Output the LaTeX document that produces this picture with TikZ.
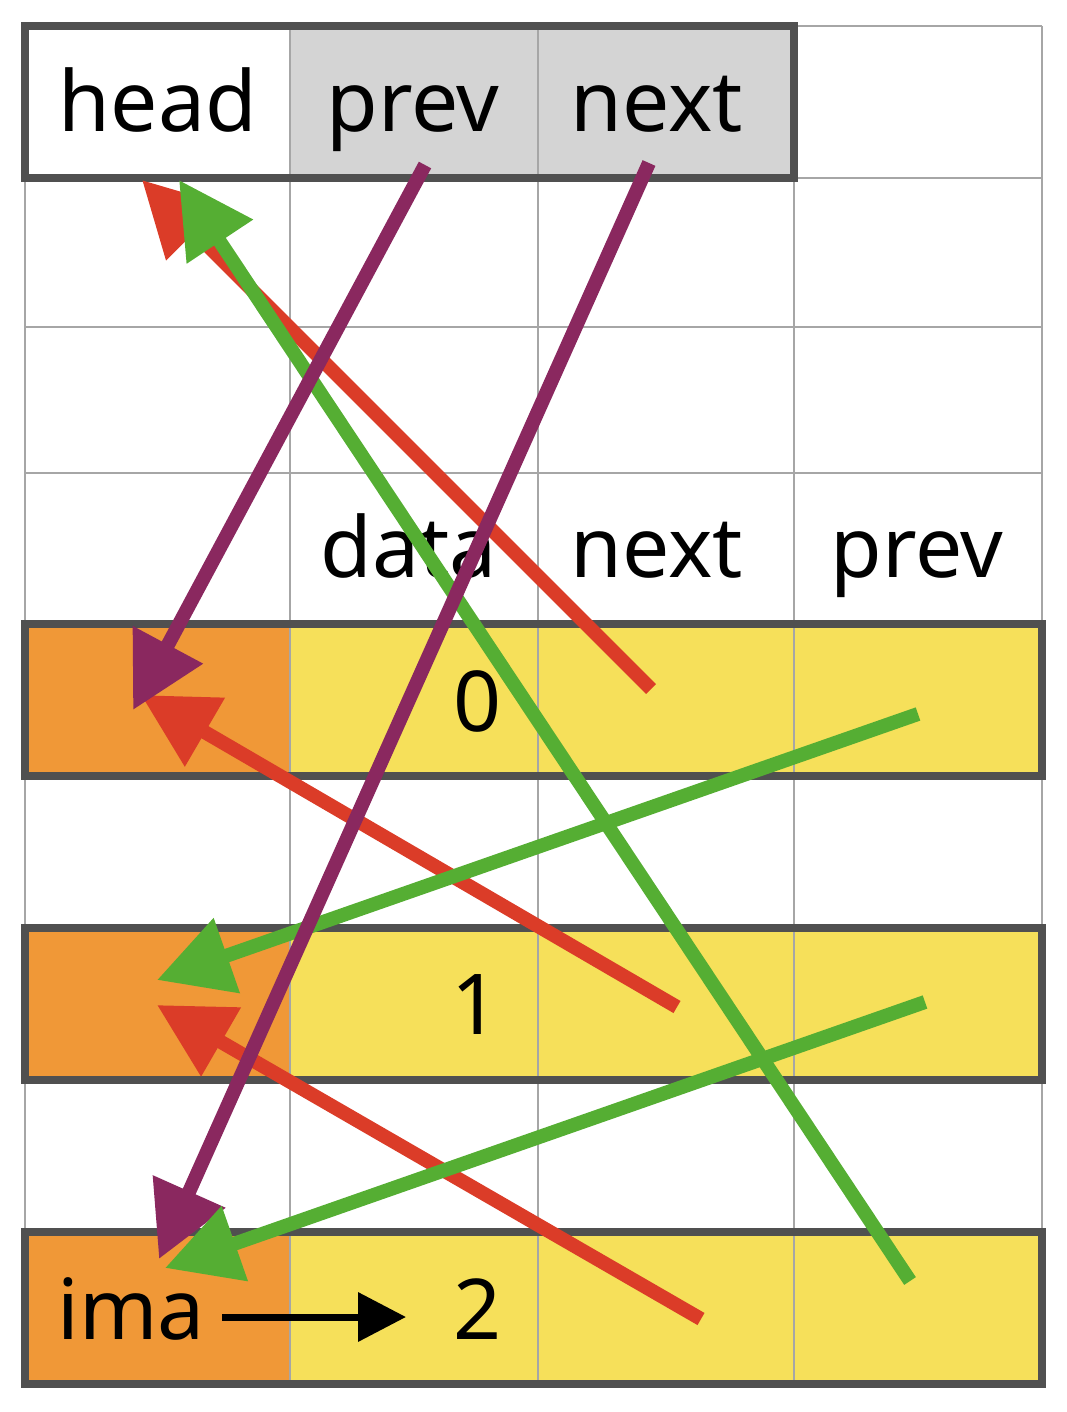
\documentclass[tikz,border=0pt]{standalone}
\usepackage{fontspec}
\setmainfont{Noto Sans}
\usetikzlibrary{arrows.meta}
\definecolor{CellOrange}{RGB}{240,152,55}
\definecolor{CellYellow}{RGB}{246,224,90}
\definecolor{CellGray}{RGB}{212,212,212}
\definecolor{FrameGray}{RGB}{80,80,80}
\definecolor{GridGray}{RGB}{166,166,166}
\definecolor{PtrRed}{RGB}{219,60,40}
\definecolor{PtrGreen}{RGB}{85,174,51}
\definecolor{PtrPurple}{RGB}{138,40,95}

\begin{document}
\begin{tikzpicture}[x=0.5pt, y=-0.5pt,
  lbl/.style={anchor=base, inner sep=0pt, font=\fontsize{42}{50}\selectfont},
  gridline/.style={draw=GridGray, line width=0.75pt},
  frame/.style={draw=FrameGray, line width=3.8pt},
  ptr/.style={line width=7pt, -{Triangle[length=37pt, width=38pt]}},
  ]
  \useasboundingbox (0,0) rectangle (1066,1412);

  % Cells
  \fill[CellGray] (290,26) rectangle (794,178);
  \foreach \top in {624, 928, 1232} {
    \fill[CellOrange] (25,\top) rectangle (290,\top+152);
    \fill[CellYellow] (290,\top) rectangle (1042,\top+152);
  }

  % Grid
  \foreach \x in {25, 290, 538, 794, 1042}
    \draw[gridline] (\x,26) -- (\x,1384);
  \foreach \y in {26, 178, 327, 473, 624, 776, 928, 1080, 1232, 1384}
    \draw[gridline] (25,\y) -- (1042,\y);

  % Frames
  \draw[frame] (25,26) rectangle (794,178);
  \foreach \top in {624, 928, 1232}
    \draw[frame] (25,\top) rectangle (1042,\top+152);

  % Labels
  \node[lbl] (thead) at (158,132) {head};
  \node[lbl] (tprev) at (413,132) {prev};
  \node[lbl] (tnext) at (657,132) {next};
  \node[lbl] (hdata) at (409,577) {data};
  \node[lbl] (hnext) at (657,577) {next};
  \node[lbl] (hprev) at (917,577) {prev};
  \node[lbl] (v0) at (478,731) {0};
  \node[lbl] (v1) at (476,1034) {1};
  \node[lbl] (v2) at (478,1339) {2};
  \node[lbl] (ima) at (131,1339) {ima};

  % ima -> 2
  \coordinate (imaout) at (222,1317);
  \coordinate (imain) at (406,1317);
  \draw[line width=3.5pt, -{Triangle[length=24pt, width=24pt]}] (imaout) -- (imain);

  % Pointer ends
  \coordinate (hprevout) at (425,165);
  \coordinate (hnextout) at (649,163);
  \coordinate (n0next) at (651,689);
  \coordinate (n1next) at (677,1007);
  \coordinate (n2next) at (701,1319);
  \coordinate (n0prev) at (918,714);
  \coordinate (n1prev) at (925,1002);
  \coordinate (n2prev) at (910,1281);
  \coordinate (headr) at (142,180);
  \coordinate (headg) at (179,180);
  \coordinate (n0a) at (133,710);
  \coordinate (n0b) at (141,695);
  \coordinate (n1a) at (157,980);
  \coordinate (n1b) at (157,1005);
  \coordinate (n2a) at (159,1259);
  \coordinate (n2b) at (165,1268);

  % next pointers
  \draw[ptr, PtrRed] (n0next) -- (headr);
  \draw[ptr, PtrRed] (n1next) -- (n0b);
  \draw[ptr, PtrRed] (n2next) -- (n1b);

  % prev pointers
  \draw[ptr, PtrGreen] (n2prev) -- (headg);
  \draw[ptr, PtrGreen] (n0prev) -- (n1a);

  % head pointers
  \draw[ptr, PtrPurple] (hprevout) -- (n0a);
  \draw[ptr, PtrPurple] (hnextout) -- (n2a);

  \draw[ptr, PtrGreen] (n1prev) -- (n2b);
\end{tikzpicture}
\end{document}
